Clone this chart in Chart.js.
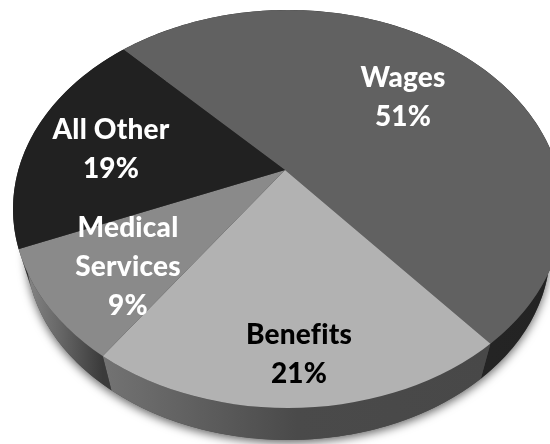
<!DOCTYPE html>
<html>
<head>
<meta charset="utf-8">
<style>
  html, body { margin: 0; padding: 0; background: #fff; }
  canvas { display: block; }
</style>
<script src="https://cdn.jsdelivr.net/npm/chart.js@4"></script>
</head>
<body>
<canvas id="costChart" width="550" height="444"></canvas>
<script>
const categories = ['Wages', 'Benefits', 'Medical Services', 'All Other'];
const shares = [51, 21, 9, 19];
const labelLines = [['Wages'], ['Benefits'], ['Medical', 'Services'], ['All Other']];

const faceColors = ['#616161', '#b2b2b2', '#8a8a8a', '#212121'];
const labelColors = ['#ffffff', '#000000', '#ffffff', '#ffffff'];
// left to right colours of the side wall under each slice
const wallColors = [
  ['#2e2e2e', '#262626', '#232323'],
  ['#737373', '#4a4a4a', '#484848'],
  ['#8c8c8c', '#666666', '#3a3a3a'],
  ['#333333', '#2a2a2a', '#212121']
];
// centre of each text block
const labelAnchors = [[403, 97], [299, 354], [128, 267], [111, 149]];

// tilted disc: top face and the smaller ellipse of the bottom edge
const topEdge = {x: 288, y: 209, rx: 275, ry: 199};
const bottomEdge = {x: 288, y: 250, rx: 262, ry: 190};
const tilt = 0.72;
const stretch = 2.2;

function onEdge (e, a) {
  return [e.x + e.rx * Math.cos(a), e.y + e.ry * Math.sin(a)];
}

// where a slice boundary from the apex leaves the top ellipse, as ellipse angle
function rimAngle (cx, cy, angle) {
  let dx = Math.cos(angle) / topEdge.rx;
  let dy = tilt * Math.sin(angle) / topEdge.ry;
  let ox = (cx - topEdge.x) / topEdge.rx;
  let oy = (cy - topEdge.y) / topEdge.ry;
  let a = dx * dx + dy * dy;
  let b = 2 * (ox * dx + oy * dy);
  let c = ox * ox + oy * oy - 1;
  let t = (-b + Math.sqrt(b * b - 4 * a * c)) / (2 * a);
  return Math.atan2(oy + t * dy, ox + t * dx);
}

function drawWall (ctx, from, to, colors) {
  while (to < from) to += Math.PI * 2;
  let steps = Math.max(2, Math.ceil((to - from) * 60));
  let xs = [];
  ctx.beginPath();
  for (let i = 0; i <= steps; i++) {
    let p = onEdge(topEdge, from + (to - from) * i / steps);
    xs.push(p[0]);
    ctx.lineTo(p[0], p[1]);
  }
  for (let i = steps; i >= 0; i--) {
    let p = onEdge(bottomEdge, from + (to - from) * i / steps);
    ctx.lineTo(p[0], p[1]);
  }
  ctx.closePath();
  let grad = ctx.createLinearGradient(Math.min(...xs), 0, Math.max(...xs), 0);
  colors.forEach((c, i) => grad.addColorStop(i / (colors.length - 1), c));
  ctx.fillStyle = grad;
  ctx.fill();
}

const tiltedDisc = {
  id: 'tiltedDisc',
  beforeDatasetsDraw (chart) {
    let ctx = chart.ctx;
    let arcs = chart.getDatasetMeta(0).data;

    // soft shadow below the disc
    ctx.save();
    ctx.shadowColor = 'rgba(0,0,0,0.6)';
    ctx.shadowBlur = 10;
    ctx.shadowOffsetY = 3;
    ctx.fillStyle = '#444';
    ctx.beginPath();
    ctx.ellipse(bottomEdge.x, bottomEdge.y, bottomEdge.rx, bottomEdge.ry, 0, 0, Math.PI * 2);
    ctx.fill();
    ctx.restore();

    arcs.forEach((arc, i) => {
      let from = rimAngle(arc.x, arc.y, arc.startAngle);
      let to = rimAngle(arc.x, arc.y, arc.endAngle);
      drawWall(ctx, from, to, wallColors[i]);
    });

    // slices are drawn by the library, squashed and cut to the top ellipse
    let apex = arcs[0];
    ctx.save();
    ctx.beginPath();
    ctx.ellipse(topEdge.x, topEdge.y, topEdge.rx, topEdge.ry, 0, 0, Math.PI * 2);
    ctx.clip();
    ctx.translate(apex.x, apex.y);
    ctx.scale(stretch, stretch * tilt);
    ctx.translate(-apex.x, -apex.y);
  },
  afterDatasetsDraw (chart) {
    let ctx = chart.ctx;
    ctx.restore();

    ctx.save();
    ctx.font = '900 28px Lato';
    ctx.letterSpacing = '0.2px';
    ctx.textAlign = 'center';
    ctx.textBaseline = 'middle';
    shares.forEach((share, i) => {
      let lines = labelLines[i].concat(share + '%');
      let top = labelAnchors[i][1] - (lines.length - 1) * 39 / 2;
      ctx.fillStyle = labelColors[i];
      lines.forEach((line, n) => ctx.fillText(line, labelAnchors[i][0], top + n * 39));
    });
    ctx.restore();
  }
};

new Chart(document.getElementById('costChart'), {
  type: 'pie',
  data: {
    labels: categories,
    datasets: [{
      data: shares,
      backgroundColor: faceColors,
      borderWidth: 0
    }]
  },
  options: {
    responsive: false,
    animation: false,
    rotation: -44,
    layout: {padding: {left: 20, bottom: 104}},
    plugins: {legend: {display: false}, tooltip: {enabled: false}}
  },
  plugins: [tiltedDisc]
});
</script>
</body>
</html>
